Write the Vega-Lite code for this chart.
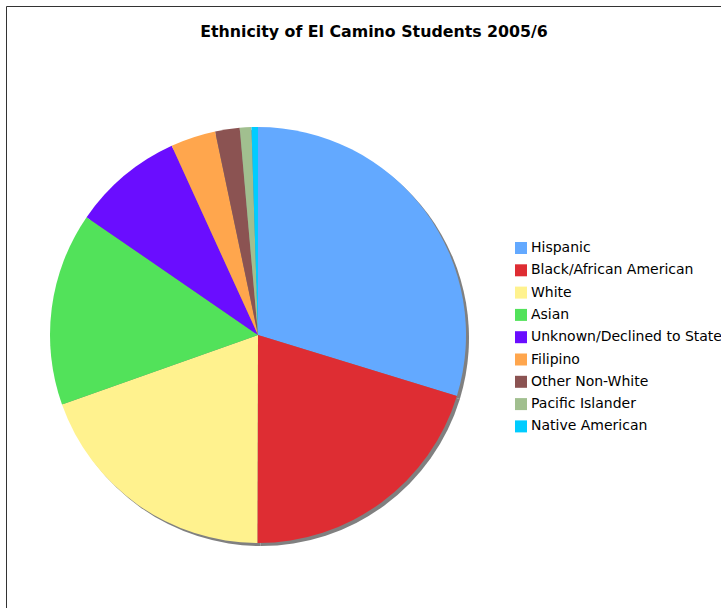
{
  "$schema": "https://vega.github.io/schema/vega-lite/v6.json",
  "autosize": "none",
  "padding": {"left": 6, "top": 6, "right": 0, "bottom": 0},
  "width": 736,
  "height": 650,
  "background": "white",
  "config": {
    "view": {"stroke": "#333333", "strokeWidth": 1},
    "font": "DejaVu Sans"
  },
  "title": {
    "text": "Ethnicity of El Camino Students 2005/6",
    "font": "DejaVu Sans",
    "fontSize": 15.8,
    "fontWeight": "bold",
    "color": "#000000",
    "anchor": "middle",
    "frame": "group",
    "offset": -35
  },
  "data": {
    "values": [
      {"group": "Hispanic", "percent": 29.7},
      {"group": "Black/African American", "percent": 20.3},
      {"group": "White", "percent": 19.5},
      {"group": "Asian", "percent": 15.0},
      {"group": "Unknown/Declined to State", "percent": 8.6},
      {"group": "Filipino", "percent": 3.5},
      {"group": "Other Non-White", "percent": 1.9},
      {"group": "Pacific Islander", "percent": 0.9},
      {"group": "Native American", "percent": 0.5}
    ]
  },
  "layer": [
    {
      "mark": {"type": "arc", "radius": 208, "color": "#808080", "stroke": null},
      "encoding": {
        "theta": {"field": "percent", "type": "quantitative", "stack": true},
        "order": {"field": "percent", "sort": "descending"},
        "x": {"value": 255},
        "y": {"value": 332}
      }
    },
    {
      "mark": {"type": "arc", "radius": 208, "stroke": null},
      "encoding": {
        "theta": {"field": "percent", "type": "quantitative", "stack": true},
        "order": {"field": "percent", "sort": "descending"},
        "x": {"value": 252},
        "y": {"value": 329},
        "color": {
          "field": "group",
          "type": "nominal",
          "scale": {
            "domain": ["Hispanic", "Black/African American", "White", "Asian", "Unknown/Declined to State", "Filipino", "Other Non-White", "Pacific Islander", "Native American"],
            "range": ["#63A9FF", "#DE2D33", "#FFF28E", "#52E25A", "#6A0DFF", "#FFA64D", "#8B5352", "#A1BF8F", "#00CCFF"]
          },
          "legend": {
            "title": null,
            "orient": "none",
            "legendX": 508,
            "legendY": 235,
            "symbolType": "square",
            "symbolSize": 144,
            "symbolStrokeWidth": 0,
            "symbolOpacity": 1,
            "labelFont": "DejaVu Sans",
            "labelFontSize": 14,
            "labelColor": "#000000",
            "labelOffset": 3,
            "rowPadding": 8.3,
            "labelLimit": 300
          }
        }
      }
    }
  ]
}
